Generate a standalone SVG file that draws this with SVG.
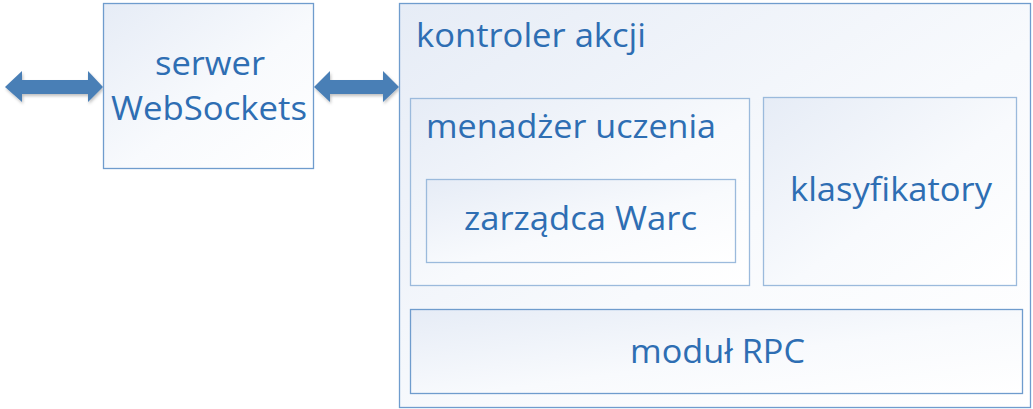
<svg xmlns="http://www.w3.org/2000/svg" width="1033" height="409" viewBox="0 0 1033 409">
<defs>
<linearGradient id="g" x1="0" y1="0" x2="1" y2="1">
<stop offset="0" stop-color="#E6ECF6"/>
<stop offset="0.55" stop-color="#F8FAFD"/>
<stop offset="1" stop-color="#FFFFFF"/>
</linearGradient>
<filter id="sh" x="-10%" y="-30%" width="120%" height="160%">
<feDropShadow dx="1" dy="2" stdDeviation="1.5" flood-color="#000" flood-opacity="0.25"/>
</filter>
</defs>
<style>
.box{fill:url(#g);stroke:#6F9CCD;stroke-width:1.3}
.inner{fill:url(#g);stroke:#9BBADC;stroke-width:1.3}
.t{font-family:"Open Sans",Lato,sans-serif;font-size:32px;fill:#2E6EB3}
.arr{fill:#4A7FB6;filter:url(#sh)}
</style>
<g id="connectors">
<polygon class="arr" points="5,87 22,71 22,80 88,80 88,71 103,87 88,102 88,94 22,94 22,102"/>
<polygon class="arr" points="314,87 330,71 330,80 383,80 383,71 399,87 383,102 383,94 330,94 330,102"/>
</g>
<g id="serwer">
<rect class="box" x="103.5" y="3.5" width="210" height="165"/>
<text class="t" x="210" y="75" text-anchor="middle" textLength="110" lengthAdjust="spacingAndGlyphs">serwer</text>
<text class="t" x="209" y="120" text-anchor="middle" textLength="196" lengthAdjust="spacingAndGlyphs">WebSockets</text>
</g>
<g id="kontroler">
<rect class="box" x="399.5" y="3.5" width="631" height="404"/>
<text class="t" x="416" y="47" textLength="230" lengthAdjust="spacingAndGlyphs">kontroler akcji</text>
</g>
<g id="menadzer">
<rect class="inner" x="410.5" y="98.5" width="339" height="187"/>
<text class="t" x="426" y="138" textLength="290" lengthAdjust="spacingAndGlyphs">menadżer uczenia</text>
</g>
<g id="zarzadca">
<rect class="inner" x="426.5" y="179.5" width="309" height="83"/>
<text class="t" x="464" y="230" textLength="233" lengthAdjust="spacingAndGlyphs">zarządca Warc</text>
</g>
<g id="klasyfikatory">
<rect class="inner" x="763.5" y="97.5" width="253" height="188"/>
<text class="t" x="790" y="201" textLength="202" lengthAdjust="spacingAndGlyphs">klasyfikatory</text>
</g>
<g id="rpc">
<rect class="box" x="410.5" y="309.5" width="612" height="84"/>
<text class="t" x="630" y="363" textLength="175" lengthAdjust="spacingAndGlyphs">moduł RPC</text>
</g>
</svg>
